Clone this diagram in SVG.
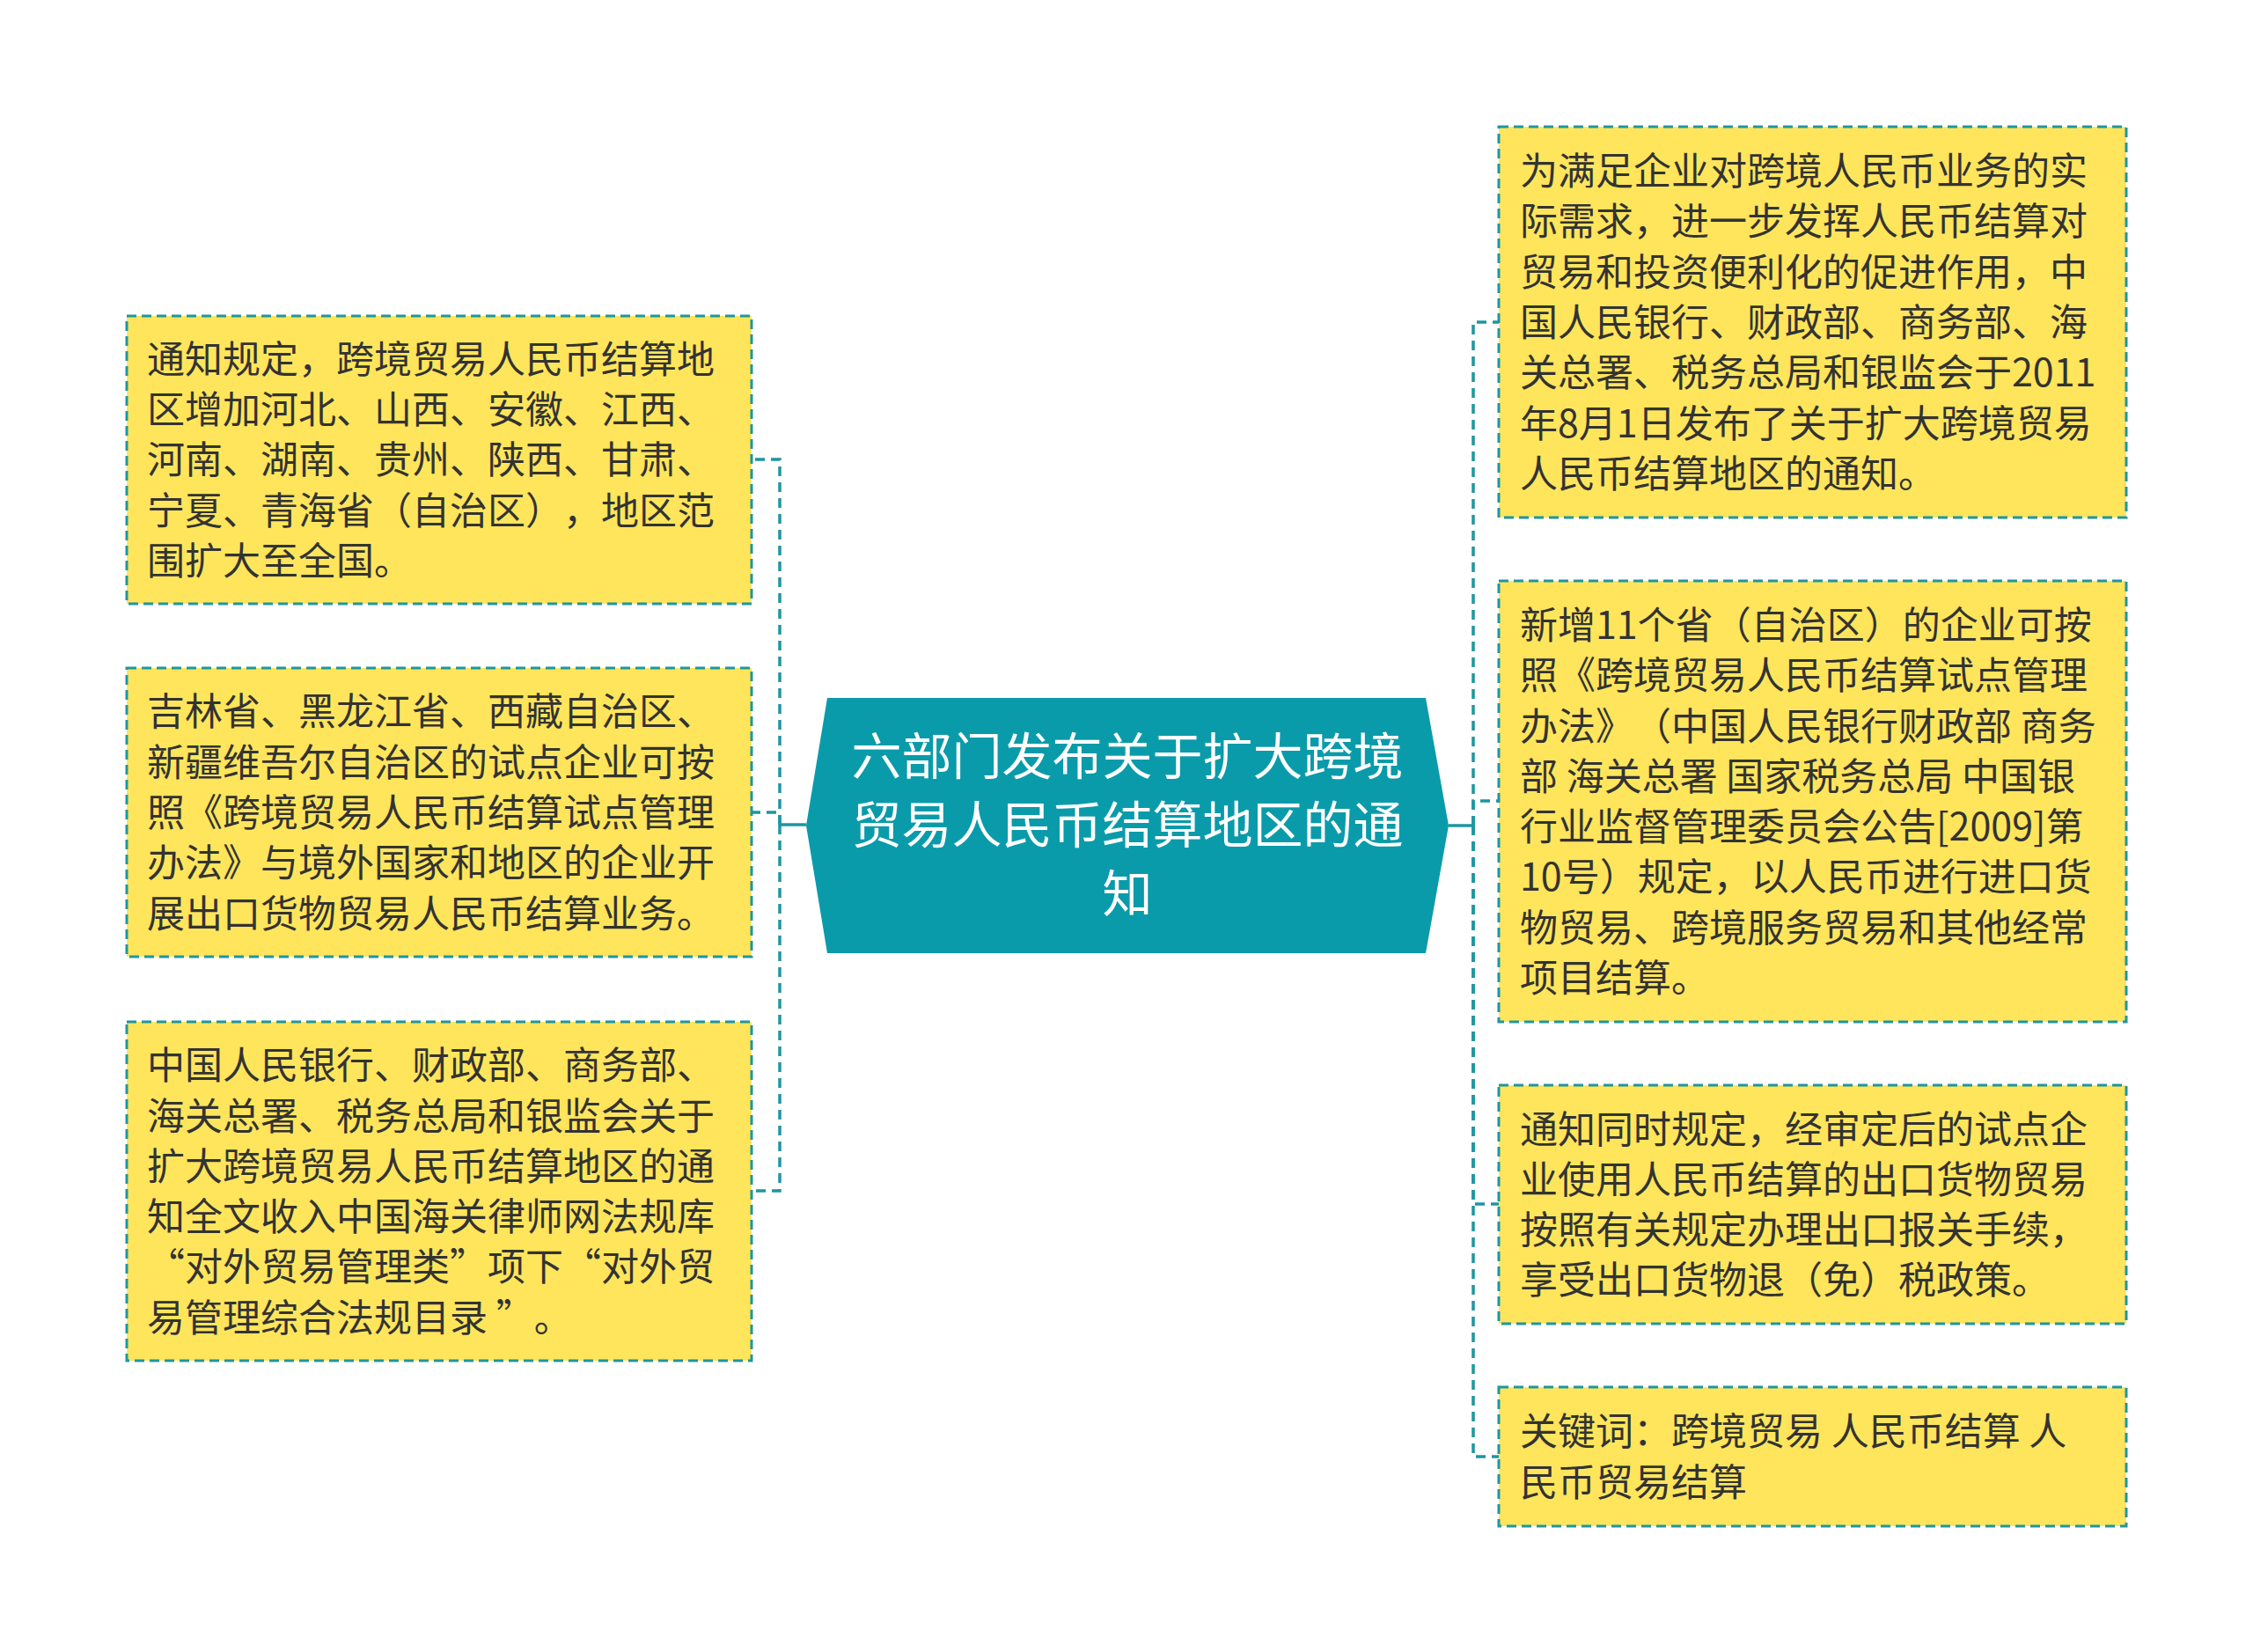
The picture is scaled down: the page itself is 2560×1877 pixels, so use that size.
<svg xmlns="http://www.w3.org/2000/svg" width="2560" height="1877" viewBox="0 0 2560 1877">
<style>
.box{fill:#FFE55C;stroke:#1E96A0;stroke-width:3;stroke-dasharray:11 6;}
.t{font-family:"Noto Sans CJK SC","Noto Sans",sans-serif;font-size:43px;fill:#333333;text-spacing-trim:space-all;}
.ht{font-family:"Noto Sans CJK SC","Noto Sans",sans-serif;font-size:57px;fill:#FFFFFF;text-anchor:middle;}
.c{fill:none;stroke:#1E96A0;stroke-width:3.5;stroke-dasharray:11 7;}
.cs{fill:none;stroke:#1E96A0;stroke-width:3.5;}
</style>
<rect width="2560" height="1877" fill="#FFFFFF"/>
<g id="connectors">
<path class="cs" d="M916 937 H886"/>
<path class="c" d="M886 937 V522 H854"/>
<path class="c" d="M886 937 V923 H854"/>
<path class="c" d="M886 937 V1353 H854"/>
<path class="cs" d="M1646 938 H1674"/>
<path class="c" d="M1674 938 V366 H1703"/>
<path class="c" d="M1674 938 V910 H1703"/>
<path class="c" d="M1674 938 V1368 H1703"/>
<path class="c" d="M1674 938 V1655 H1703"/>
</g>
<g id="hub">
<polygon points="940,793 1620,793 1646,938 1620,1083 940,1083 916,938" fill="#0A9BAA"/>
<text class="ht"><tspan x="1281" y="880">六部门发布关于扩大跨境</tspan><tspan x="1281" y="958">贸易人民币结算地区的通</tspan><tspan x="1281" y="1036">知</tspan></text>
</g>
<g id="node-l1">
<rect class="box" x="144" y="359" width="710" height="327"/>
<text class="t"><tspan x="167" y="424">通知规定，跨境贸易人民币结算地</tspan><tspan x="167" y="481">区增加河北、山西、安徽、江西、</tspan><tspan x="167" y="538">河南、湖南、贵州、陕西、甘肃、</tspan><tspan x="167" y="596">宁夏、青海省（自治区），地区范</tspan><tspan x="167" y="653">围扩大至全国。</tspan></text>
</g>
<g id="node-l2">
<rect class="box" x="144" y="759" width="710" height="328"/>
<text class="t"><tspan x="167" y="824">吉林省、黑龙江省、西藏自治区、</tspan><tspan x="167" y="882">新疆维吾尔自治区的试点企业可按</tspan><tspan x="167" y="939">照《跨境贸易人民币结算试点管理</tspan><tspan x="167" y="996">办法》与境外国家和地区的企业开</tspan><tspan x="167" y="1054">展出口货物贸易人民币结算业务。</tspan></text>
</g>
<g id="node-l3">
<rect class="box" x="144" y="1161" width="710" height="385"/>
<text class="t"><tspan x="167" y="1226">中国人民银行、财政部、商务部、</tspan><tspan x="167" y="1284">海关总署、税务总局和银监会关于</tspan><tspan x="167" y="1341">扩大跨境贸易人民币结算地区的通</tspan><tspan x="167" y="1398">知全文收入中国海关律师网法规库</tspan><tspan x="167" y="1455">“对外贸易管理类”项下“对外贸</tspan><tspan x="167" y="1513">易管理综合法规目录 ”。</tspan></text>
</g>
<g id="node-r1">
<rect class="box" x="1703" y="144" width="713" height="444"/>
<text class="t"><tspan x="1727" y="210">为满足企业对跨境人民币业务的实</tspan><tspan x="1727" y="267">际需求，进一步发挥人民币结算对</tspan><tspan x="1727" y="325">贸易和投资便利化的促进作用，中</tspan><tspan x="1727" y="382">国人民银行、财政部、商务部、海</tspan><tspan x="1727" y="439">关总署、税务总局和银监会于2011</tspan><tspan x="1727" y="497">年8月1日发布了关于扩大跨境贸易</tspan><tspan x="1727" y="554">人民币结算地区的通知。</tspan></text>
</g>
<g id="node-r2">
<rect class="box" x="1703" y="660" width="713" height="501"/>
<text class="t"><tspan x="1727" y="726">新增11个省（自治区）的企业可按</tspan><tspan x="1727" y="783">照《跨境贸易人民币结算试点管理</tspan><tspan x="1727" y="841">办法》（中国人民银行财政部 商务</tspan><tspan x="1727" y="898">部 海关总署 国家税务总局 中国银</tspan><tspan x="1727" y="955">行业监督管理委员会公告[2009]第</tspan><tspan x="1727" y="1012">10号）规定，以人民币进行进口货</tspan><tspan x="1727" y="1070">物贸易、跨境服务贸易和其他经常</tspan><tspan x="1727" y="1127">项目结算。</tspan></text>
</g>
<g id="node-r3">
<rect class="box" x="1703" y="1233" width="713" height="271"/>
<text class="t"><tspan x="1727" y="1299">通知同时规定，经审定后的试点企</tspan><tspan x="1727" y="1356">业使用人民币结算的出口货物贸易</tspan><tspan x="1727" y="1413">按照有关规定办理出口报关手续，</tspan><tspan x="1727" y="1470">享受出口货物退（免）税政策。</tspan></text>
</g>
<g id="node-r4">
<rect class="box" x="1703" y="1576" width="713" height="158"/>
<text class="t"><tspan x="1727" y="1642">关键词：跨境贸易 人民币结算 人</tspan><tspan x="1727" y="1700">民币贸易结算</tspan></text>
</g>
</svg>
